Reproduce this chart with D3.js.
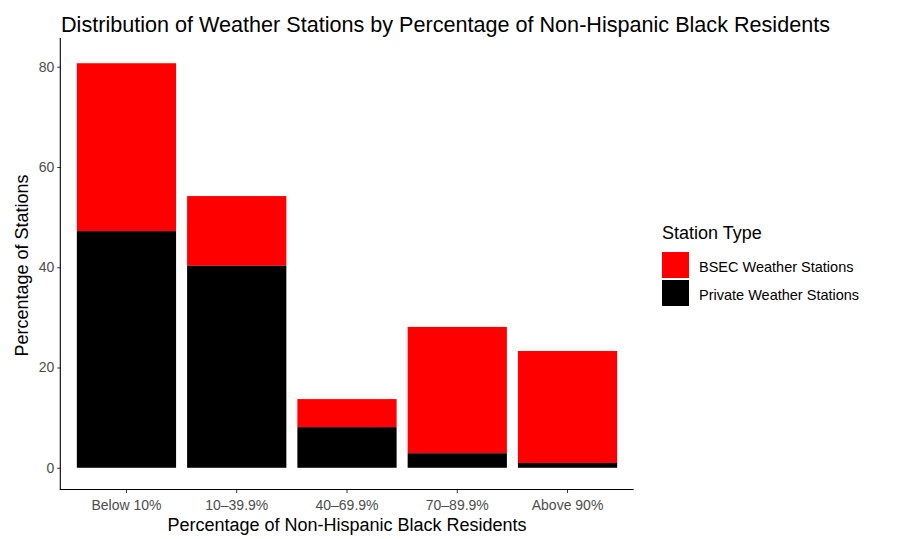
<!DOCTYPE html>
<html>
<head>
<meta charset="utf-8">
<script src="https://cdn.jsdelivr.net/npm/d3@7"></script>
<style>
body { margin: 0; background: #fff; }
text { font-family: "Liberation Sans", Arial, sans-serif; }
</style>
</head>
<body>
<svg id="chart" width="903" height="539"></svg>
<script>
const categories = ["Below 10%", "10–39.9%", "40–69.9%", "70–89.9%", "Above 90%"];
const privateValues = [47.2, 40.3, 8.1, 2.9, 0.95];
const bsecValues = [33.5, 13.9, 5.6, 25.2, 22.35];
const seriesNames = ["BSEC Weather Stations", "Private Weather Stations"];
const seriesColors = ["#ff0000", "#000000"];
const yTicks = [0, 20, 40, 60, 80];

const svg = d3.select("#chart");
const panel = { left: 60.3, right: 633.7, top: 43, bottom: 488 };

const totals = categories.map((c, i) => privateValues[i] + bsecValues[i]);
const maxTotal = d3.max(totals);
const expandY = maxTotal * 0.05;

const x = d3.scaleBand()
  .domain(categories)
  .range([panel.left, panel.right])
  .paddingInner(0.1)
  .paddingOuter(0.15);

const y = d3.scaleLinear()
  .domain([-expandY, maxTotal + expandY])
  .range([panel.bottom, panel.top]);

const rows = categories.map((c, i) => ({ cat: c, priv: privateValues[i], bsec: bsecValues[i] }));
const stack = d3.stack().keys(["bsec", "priv"]).order(d3.stackOrderReverse);
const stacked = stack(rows);

const colorMap = { bsec: seriesColors[0], priv: seriesColors[1] };

svg.append("g").selectAll("g")
  .data(stacked)
  .join("g")
  .attr("fill", d => colorMap[d.key])
  .selectAll("rect")
  .data(d => d)
  .join("rect")
  .attr("x", d => x(d.data.cat))
  .attr("width", x.bandwidth())
  .attr("y", d => y(d[1]))
  .attr("height", d => y(d[0]) - y(d[1]));

// Axes
const yAxis = d3.axisLeft(y).tickValues(yTicks).tickSize(3).tickPadding(3);
const gy = svg.append("g").attr("transform", `translate(${panel.left},0)`).call(yAxis);
gy.select(".domain").remove();
gy.selectAll(".tick line").attr("stroke", "#333333");
gy.selectAll(".tick text").attr("fill", "#4d4d4d").style("font-size", "14px");
svg.append("line").attr("x1", panel.left).attr("x2", panel.left)
  .attr("y1", panel.top - 5).attr("y2", panel.bottom + 1.5)
  .attr("stroke", "#000").attr("stroke-width", 1.1);

const xAxis = d3.axisBottom(x).tickSize(3.5).tickPadding(7);
const gx = svg.append("g").attr("transform", `translate(0,${panel.bottom + 1.5})`).call(xAxis);
gx.select(".domain").remove();
gx.selectAll(".tick line").attr("stroke", "#333333");
gx.selectAll(".tick text").attr("fill", "#4d4d4d").style("font-size", "14px");
svg.append("line").attr("x1", panel.left - 0.5).attr("x2", panel.right)
  .attr("y1", panel.bottom + 1.5).attr("y2", panel.bottom + 1.5)
  .attr("stroke", "#000").attr("stroke-width", 1.1);

// Titles
svg.append("text").attr("x", 61).attr("y", 32)
  .style("font-size", "21.6px").attr("fill", "#000")
  .text("Distribution of Weather Stations by Percentage of Non-Hispanic Black Residents");

svg.append("text").attr("x", (panel.left + panel.right) / 2).attr("y", 530.5)
  .attr("text-anchor", "middle").style("font-size", "18px")
  .text("Percentage of Non-Hispanic Black Residents");

svg.append("text")
  .attr("transform", `translate(28,${(panel.top + panel.bottom) / 2}) rotate(-90)`)
  .attr("text-anchor", "middle").style("font-size", "18px")
  .text("Percentage of Stations");

// Legend
const lg = svg.append("g").attr("transform", "translate(662,0)");
lg.append("text").attr("x", 0).attr("y", 239).style("font-size", "18px").text("Station Type");
seriesNames.forEach((name, i) => {
  lg.append("rect").attr("x", 0).attr("y", 252 + i * 28).attr("width", 27).attr("height", 26)
    .attr("fill", seriesColors[i]);
  lg.append("text").attr("x", 37).attr("y", 272 + i * 28).style("font-size", "14.5px")
    .attr("fill", "#000").text(name);
});
</script>
</body>
</html>
